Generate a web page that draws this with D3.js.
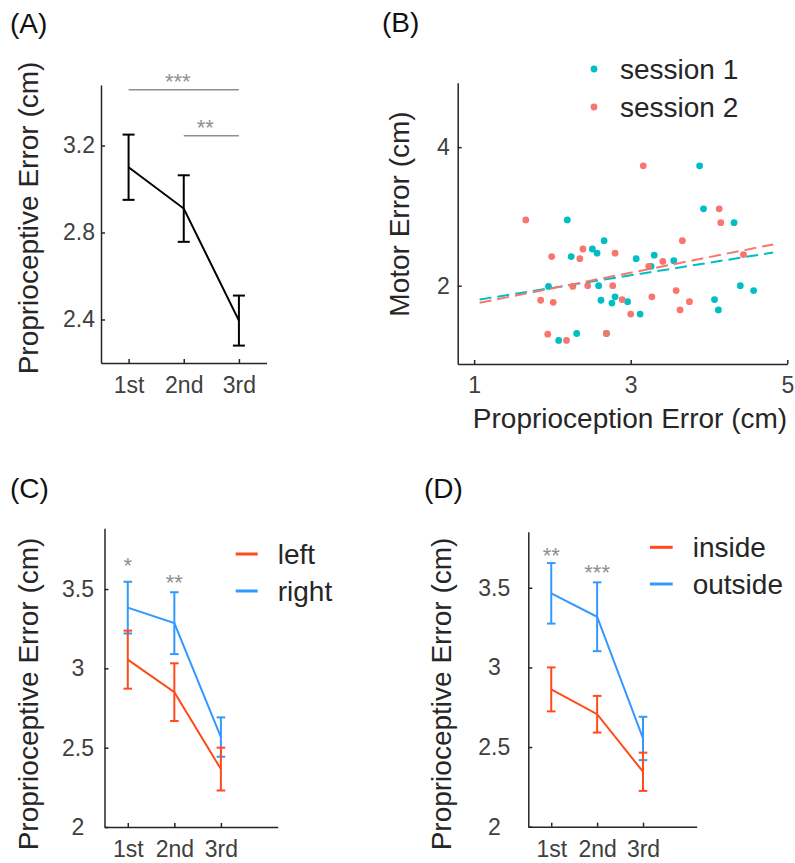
<!DOCTYPE html>
<html>
<head>
<meta charset="utf-8">
<script src="https://cdn.jsdelivr.net/npm/d3@7"></script>
<style>
  body { margin: 0; background: #fff; }
  svg text { font-family: Arial, "Liberation Sans", Helvetica, sans-serif; }
</style>
</head>
<body>
<div id="fig"></div>
<script>
/*global d3*/
var sessions = ["1st", "2nd", "3rd"];

// (A) proprioceptive error per session, mean and sem
var meanA = [3.10, 2.91, 2.395];
var semA = [0.15, 0.153, 0.115];
var sigA = [
  { from: 1, to: 3, level: 3.456, label: "***" },
  { from: 2, to: 3, level: 3.245, label: "**" },
];
var ticksA = [2.4, 2.8, 3.2];

// (B) motor error vs proprioception error
var s1x = [2.19, 2.24, 2.51, 2.57, 2.66, 1.95, 2.59, 2.62, 2.76, 2.80, 2.96, 3.07, 3.26,
  3.30, 3.55, 3.12, 2.31, 2.08, 2.69, 3.88, 3.93, 4.32, 4.40, 4.57, 4.07, 4.12];
var s1y = [2.95, 2.42, 2.53, 2.47, 2.65, 1.99, 2.00, 1.79, 1.75, 1.84, 1.77, 2.39, 2.28,
  2.44, 2.36, 1.59, 1.31, 1.21, 1.31, 3.73, 3.11, 2.91, 2.00, 1.93, 1.80, 1.65];
var s2x = [1.66, 1.99, 2.35, 2.39, 2.80, 1.85, 2.01, 2.26, 2.45, 2.77, 2.89, 3.00, 1.94,
  2.18, 2.69, 3.16, 3.23, 3.41, 3.66, 3.27, 3.58, 3.63, 3.75, 4.13, 4.15, 4.44];
var s2y = [2.95, 2.42, 2.39, 2.53, 2.47, 1.79, 1.76, 1.99, 2.00, 2.00, 1.80, 1.59, 1.30,
  1.21, 1.31, 3.73, 2.28, 2.35, 2.65, 1.84, 1.93, 1.65, 1.77, 3.11, 2.91, 2.45];
var fit1 = [0.181, 1.607]; // slope, intercept
var fit2 = [0.2245, 1.514];
var fitRange = [1.07, 4.82];
var legendB = ["session 1", "session 2"];
var ticksBx = [1, 3, 5];
var ticksBy = [2, 4];

// (C) left vs right
var meanCLeft = [3.055, 2.85, 2.365];
var semCLeft = [0.183, 0.182, 0.135];
var meanCRight = [3.383, 3.285, 2.567];
var semCRight = [0.163, 0.195, 0.124];
var starsC = ["*", "**"];
var starLevelC = [3.683, 3.574];
var legendC = ["left", "right"];

// (D) inside vs outside
var meanDIn = [2.862, 2.706, 2.345];
var semDIn = [0.138, 0.115, 0.12];
var meanDOut = [3.465, 3.318, 2.554];
var semDOut = [0.19, 0.216, 0.136];
var starsD = ["**", "***"];
var starLevelD = [3.737, 3.626];
var legendD = ["inside", "outside"];

var ticksCD = [2, 2.5, 3, 3.5];

var INK = "#262626", TICK_INK = "#404040", STAR_INK = "#8f8f8f";
var RED = "#ff4a1c", BLUE = "#3399ff", TEAL = "#00bfc4", SALMON = "#f8766d";

var svg = d3.select("#fig").append("svg").attr("width", 795).attr("height", 863);

function styleAxis(g) {
  g.select(".domain").attr("stroke", INK).attr("stroke-width", 1.5);
  g.selectAll(".tick line").attr("stroke", INK).attr("stroke-width", 1.5);
  g.selectAll(".tick text").attr("fill", TICK_INK).attr("font-size", 23);
}

function panelLetter(txt, x, y) {
  svg.append("text").attr("x", x).attr("y", y).attr("dominant-baseline", "central")
    .attr("font-size", 28).attr("fill", "#111").text(txt);
}

function yLabel(txt, cx, cy) {
  svg.append("text").attr("transform", `translate(${cx},${cy}) rotate(-90)`)
    .attr("text-anchor", "middle").attr("dominant-baseline", "central")
    .attr("font-size", 28).attr("fill", INK).text(txt);
}

function categoryAxes(x, y, yTicks, yFmt) {
  var [x0] = x.range();
  var [yb] = y.range();
  svg.append("g").attr("transform", `translate(0,${yb})`)
    .call(d3.axisBottom(x).tickValues([1, 2, 3]).tickFormat((d) => sessions[d - 1])
      .tickSizeInner(-4).tickSizeOuter(0).tickPadding(14))
    .call(styleAxis);
  return svg.append("g").attr("transform", `translate(${x0},0)`)
    .call(d3.axisLeft(y).tickValues(yTicks).tickFormat(yFmt)
      .tickSizeInner(-4).tickSizeOuter(0).tickPadding(6))
    .call(styleAxis);
}

function series(x, y, mean, sem, color, capHalf) {
  var g = svg.append("g");
  var idx = mean.map((d, i) => i + 1);
  g.append("path")
    .attr("d", d3.line().x((d) => x(d)).y((d) => y(mean[d - 1]))(idx))
    .attr("fill", "none").attr("stroke", color).attr("stroke-width", 2);
  var bars = g.selectAll(".eb").data(idx).enter().append("g");
  bars.append("line")
    .attr("x1", (d) => x(d)).attr("x2", (d) => x(d))
    .attr("y1", (d) => y(mean[d - 1] - sem[d - 1]))
    .attr("y2", (d) => y(mean[d - 1] + sem[d - 1]));
  [-1, 1].forEach((s) => {
    bars.append("line")
      .attr("x1", (d) => x(d) - capHalf).attr("x2", (d) => x(d) + capHalf)
      .attr("y1", (d) => y(mean[d - 1] + s * sem[d - 1]))
      .attr("y2", (d) => y(mean[d - 1] + s * sem[d - 1]));
  });
  bars.selectAll("line").attr("stroke", color).attr("stroke-width", 2);
}

function lineLegend(labels, colors, x0, x1, ys) {
  labels.forEach((lab, i) => {
    svg.append("line").attr("x1", x0).attr("x2", x1).attr("y1", ys[i]).attr("y2", ys[i])
      .attr("stroke", colors[i]).attr("stroke-width", 3);
    svg.append("text").attr("x", x1 + 20).attr("y", ys[i]).attr("dominant-baseline", "central")
      .attr("font-size", 28).attr("fill", INK).text(lab);
  });
}

function stars(x, y, labels, levels) {
  labels.forEach((lab, i) => {
    svg.append("text").attr("x", x(i + 1)).attr("y", y(levels[i])).attr("dy", "0.57em")
      .attr("text-anchor", "middle").attr("font-size", 22).attr("fill", STAR_INK).text(lab);
  });
}

// ---------- (A)
(function () {
  var x = d3.scaleLinear().domain([0.5, 3.5]).range([101, 266.5]);
  var y = d3.scaleLinear().domain([2.2, 3.478]).range([363, 85]);
  panelLetter("(A)", 10, 23);
  yLabel("Proprioceptive Error (cm)", 28, 218);
  categoryAxes(x, y, ticksA, d3.format(".1f"));
  series(x, y, meanA, semA, "#000", 6);
  sigA.forEach((s) => {
    svg.append("line").attr("x1", x(s.from)).attr("x2", x(s.to))
      .attr("y1", y(s.level)).attr("y2", y(s.level))
      .attr("stroke", STAR_INK).attr("stroke-width", 1.6);
    svg.append("text").attr("x", (x(s.from) + x(s.to)) / 2 - 6).attr("y", y(s.level) - 13)
      .attr("dy", "0.57em").attr("text-anchor", "middle")
      .attr("font-size", 22).attr("fill", STAR_INK).text(s.label);
  });
})();

// ---------- (B)
(function () {
  var x = d3.scaleLinear().domain([0.79, 5]).range([457.7, 787.3]);
  var y = d3.scaleLinear().domain([0.87, 4.93]).range([364, 82.7]);
  panelLetter("(B)", 382, 22);
  yLabel("Motor Error (cm)", 399, 214);
  svg.append("text").attr("x", 630).attr("y", 418).attr("text-anchor", "middle")
    .attr("dominant-baseline", "central").attr("font-size", 28).attr("fill", INK)
    .text("Proprioception Error (cm)");
  svg.append("g").attr("transform", "translate(0,364)")
    .call(d3.axisBottom(x).tickValues(ticksBx).tickFormat(d3.format("d"))
      .tickSizeInner(-4).tickSizeOuter(0).tickPadding(13))
    .call(styleAxis);
  svg.append("g").attr("transform", "translate(457.7,0)")
    .call(d3.axisLeft(y).tickValues(ticksBy).tickFormat(d3.format("d"))
      .tickSizeInner(-4).tickSizeOuter(0).tickPadding(8))
    .call(styleAxis);

  [[s1x, s1y, TEAL], [s2x, s2y, SALMON]].forEach(([xs, ys, c]) => {
    svg.append("g").selectAll("circle").data(xs).enter().append("circle")
      .attr("cx", (d) => x(d)).attr("cy", (d, i) => y(ys[i])).attr("r", 3.4).attr("fill", c);
  });
  [[fit1, TEAL], [fit2, SALMON]].forEach(([f, c]) => {
    svg.append("path")
      .attr("d", d3.line().x((d) => x(d)).y((d) => y(f[0] * d + f[1]))(fitRange))
      .attr("fill", "none").attr("stroke", c).attr("stroke-width", 2)
      .attr("stroke-dasharray", "12,6");
  });
  [TEAL, SALMON].forEach((c, i) => {
    var ly = 69 + i * 38;
    svg.append("circle").attr("cx", 594).attr("cy", ly).attr("r", 3.4).attr("fill", c);
    svg.append("text").attr("x", 620).attr("y", ly).attr("dominant-baseline", "central")
      .attr("font-size", 28).attr("fill", INK).text(legendB[i]);
  });
})();

// ---------- (C)
(function () {
  var x = d3.scaleLinear().domain([0.5, 4.22]).range([104.5, 277.7]);
  var y = d3.scaleLinear().domain([2, 3.883]).range([827, 528.3]);
  panelLetter("(C)", 10, 488);
  yLabel("Proprioceptive Error (cm)", 28, 694);
  var ya = categoryAxes(x, y, ticksCD, (d) => String(d));
  ya.selectAll(".tick text").attr("text-anchor", "middle").attr("x", -26.5);
  series(x, y, meanCRight, semCRight, BLUE, 4.3);
  series(x, y, meanCLeft, semCLeft, RED, 4.3);
  stars(x, y, starsC, starLevelC);
  lineLegend(legendC, [RED, BLUE], 235.7, 257.7, [554, 591]);
})();

// ---------- (D)
(function () {
  var x = d3.scaleLinear().domain([0.5, 4.17]).range([528.3, 696.7]);
  var y = d3.scaleLinear().domain([2, 3.852]).range([826.7, 531.7]);
  panelLetter("(D)", 424, 488);
  yLabel("Proprioceptive Error (cm)", 441.7, 694);
  var ya = categoryAxes(x, y, ticksCD, (d) => String(d));
  ya.selectAll(".tick text").attr("text-anchor", "middle").attr("x", -34);
  series(x, y, meanDOut, semDOut, BLUE, 4.3);
  series(x, y, meanDIn, semDIn, RED, 4.3);
  stars(x, y, starsD, starLevelD);
  lineLegend(legendD, [RED, BLUE], 650, 672.7, [547.3, 584]);
})();
</script>
</body>
</html>
